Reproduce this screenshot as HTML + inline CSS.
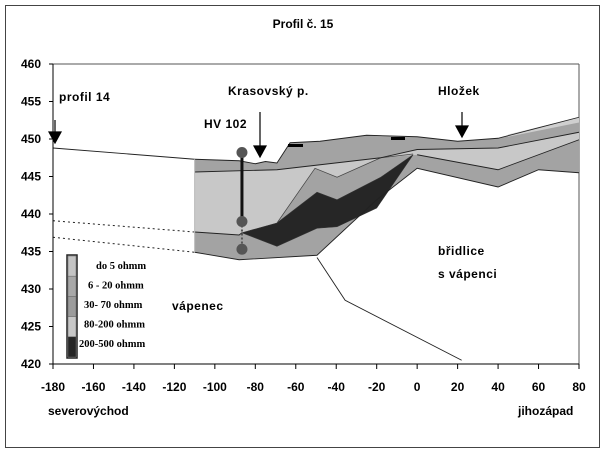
<!DOCTYPE html>
<html><head><meta charset="utf-8"><style>
body{margin:0;background:#fff;}
svg text{font-family:"Liberation Sans",Arial,sans-serif;font-weight:bold;fill:#000;}
</style></head><body>
<svg width="605" height="454" viewBox="0 0 605 454">
<rect x="5.5" y="5.5" width="594" height="442" fill="#fff" stroke="#444"/>
<text x="303" y="28" font-size="12" text-anchor="middle">Profil č. 15</text>
<g id="plot"></g>
<text x="48" y="415" font-size="12">severovýchod</text>
<text x="518" y="415" font-size="12">jihozápad</text>
</svg>
<script>
const xTicks=[-180,-160,-140,-120,-100,-80,-60,-40,-20,0,20,40,60,80];
const yTicks=[420,425,430,435,440,445,450,455,460];
const topX=[-110,-88,-80,-75,-69.3,-62.8,-48,-25,0,20,40,80];
const topY=[447.3,447.1,446.7,447,446.8,449.5,449.7,450.5,450.3,449.7,450.1,452.9];
const line2X=[-110,-69.3,-18,0,40,80];
const line2Y=[445.6,445.9,447.5,448.6,448.8,450.9];
const line3X=[0,40,80];
const line3Y=[447.9,445.9,449.9];
const bottomX=[-110,-88,-49.5,-20,0,40,60,80];
const bottomY=[434.9,433.9,434.5,441.9,446.1,443.6,445.9,445.5];
const lightLowX=[0,-18,-39.6,-50.5,-69.3,-86.6,-88,-110];
const lightLowY=[447.9,447.5,444.9,446.1,438.8,437.5,437.2,437.6];
const darkX=[-86.6,-69.3,-49.5,-39.6,-18,-2,-20,-39.6,-49.5,-69.3];
const darkY=[437.5,438.8,442.9,441.9,444.9,447.9,440.8,438.3,438.1,435.7];
const groundX=[-180,-110];
const groundY=[448.8,447.3];
const dash1Y=[439.1,437.6];
const dash2Y=[436.9,434.9];
const faultX=[-49.5,-35.6,22];
const faultY=[434.2,428.5,420.5];
const boreX=-86.6;
const boreY=[448.2,439,435.3];
const legendLabels=["do 5 ohmm","6 - 20 ohmm","30- 70 ohmm","80-200 ohmm","200-500 ohmm"];
const legendColors=["#c4c4c4","#a8a8a8","#9c9c9c","#c8c8c8","#262626"];

const L=53,R=579,T=64,B=364;
const sx=v=>L+(v+180)*(R-L)/260;
const sy=v=>B-(v-420)*(B-T)/40;
const NS="http://www.w3.org/2000/svg";
const g=document.getElementById('plot');
function mk(tag,attrs){const e=document.createElementNS(NS,tag);for(const k in attrs)e.setAttribute(k,attrs[k]);g.appendChild(e);return e;}
const pts=(xs,ys)=>xs.map((x,i)=>sx(x)+','+sy(ys[i])).join(' ');

let e=mk('line',{x1:L,y1:T,x2:R,y2:T,stroke:'#555'});

e=mk('line',{x1:R,y1:T,x2:R,y2:B,stroke:'#555'});


e=mk('polygon',{points:pts(topX,topY)+' '+pts(bottomX.slice().reverse(),bottomY.slice().reverse()),fill:'#a3a3a3'});

e=mk('polygon',{points:pts(line2X,line2Y)+' '+pts(line3X.slice().reverse(),line3Y.slice().reverse())+' '+pts(lightLowX,lightLowY),fill:'#c8c8c8'});

e=mk('polygon',{points:sx(45)+','+sy(450.6)+' '+sx(80)+','+sy(452.9)+' '+sx(80)+','+sy(452.2)+' '+sx(45)+','+sy(450.3),fill:'#cfcfcf'});

e=mk('polygon',{points:pts(darkX,darkY),fill:'#262626',stroke:'#333','stroke-width':0.6});

e=mk('polyline',{points:pts([-69.3,-50.5,-39.6,-18,-2],[438.8,446.1,444.9,447.5,448]),fill:'none',stroke:'#444','stroke-width':0.7});

[[topX,topY,'surface-line'],[line2X,line2Y,'boundary-line-1'],[line3X,line3Y,'boundary-line-2'],[bottomX,bottomY,'bottom-line'],[groundX,groundY,'ground-line-left'],[faultX,faultY,'fault-line']].forEach(([xs,ys,n])=>{
 const el=mk('polyline',{points:pts(xs,ys),fill:'none',stroke:'#222','stroke-width':0.9});
 
 
});
e=mk('polyline',{points:pts(lightLowX.slice(5),lightLowY.slice(5)),fill:'none',stroke:'#222','stroke-width':0.9});

e=mk('polyline',{points:pts(groundX,dash1Y),fill:'none',stroke:'#222','stroke-dasharray':'2,3'});

e=mk('polyline',{points:pts(groundX,dash2Y),fill:'none',stroke:'#222','stroke-dasharray':'2,3'});

e=mk('line',{x1:sx(-110),y1:sy(447.3),x2:sx(-110),y2:sy(434.9),stroke:'#bbb'});

e=mk('rect',{x:288,y:144,width:15,height:3,fill:'#000'});

e=mk('rect',{x:391,y:137,width:14,height:3,fill:'#000'});

e=mk('line',{x1:sx(boreX),y1:sy(boreY[0]),x2:sx(boreX),y2:sy(boreY[1]),stroke:'#111','stroke-width':3});

e=mk('line',{x1:sx(boreX),y1:sy(boreY[1]),x2:sx(boreX),y2:sy(boreY[2]),stroke:'#555','stroke-width':2,'stroke-dasharray':'2,2'});

boreY.forEach(v=>{const c=mk('circle',{cx:sx(boreX),cy:sy(v),r:5.5,fill:'#555'});
 
 });
[[55,120,143,'arrow-profil-14'],[260,112,157,'arrow-krasovsky'],[462,112,137,'arrow-hlozek']].forEach(([x,y1,y2,n])=>{
 const a=mk('path',{d:`M${x} ${y1}V${y2-9}M${x-6} ${y2-11}L${x+6} ${y2-11}L${x} ${y2}Z`,stroke:'#000','stroke-width':1.2,fill:'#000'});
 
 
});
e=mk('line',{x1:L,y1:T,x2:L,y2:B,stroke:'#000'});

e=mk('line',{x1:L,y1:B,x2:R,y2:B,stroke:'#000'});

xTicks.forEach(v=>{
 const t=mk('line',{x1:sx(v),y1:B,x2:sx(v),y2:B+5,stroke:'#000'});
 
 const l=mk('text',{x:sx(v),y:B+27,'font-size':12,'text-anchor':'middle'});l.textContent=v;
 
});
yTicks.forEach(v=>{
 const t=mk('line',{x1:L-4,y1:sy(v),x2:L,y2:sy(v),stroke:'#000'});
 
 const l=mk('text',{x:L-12,y:sy(v)+4,'font-size':12,'text-anchor':'end'});l.textContent=v;
 
});
[['profil 14',59,101,'label-profil-14'],['Krasovský p.',228,95,'label-krasovsky'],['HV 102',204,128,'label-hv102'],['Hložek',438,95,'label-hlozek'],['břidlice',438,255,'label-bridlice'],['s vápenci',438,278,'label-s-vapenci'],['vápenec',172,310,'label-vapenec']].forEach(([s,x,y,n])=>{
 const l=mk('text',{x:x,y:y,'font-size':12,'letter-spacing':0.5});l.textContent=s;
 
});
const lg=mk('rect',{x:67,y:255,width:10,height:103,fill:'none',stroke:'#222','stroke-width':1.5});

legendLabels.forEach((s,i)=>{
 const r=mk('rect',{x:68,y:256+i*20.2,width:8,height:20.2,fill:legendColors[i],stroke:'#666','stroke-width':0.5});
 
 const t=mk('text',{x:[96,88,84,84,79][i],y:269+i*19.5,'font-size':10.5});
 t.setAttribute('style','font-family:"Liberation Serif",serif;font-weight:bold');
 t.textContent=s;
 
});
</script>
</body></html>
